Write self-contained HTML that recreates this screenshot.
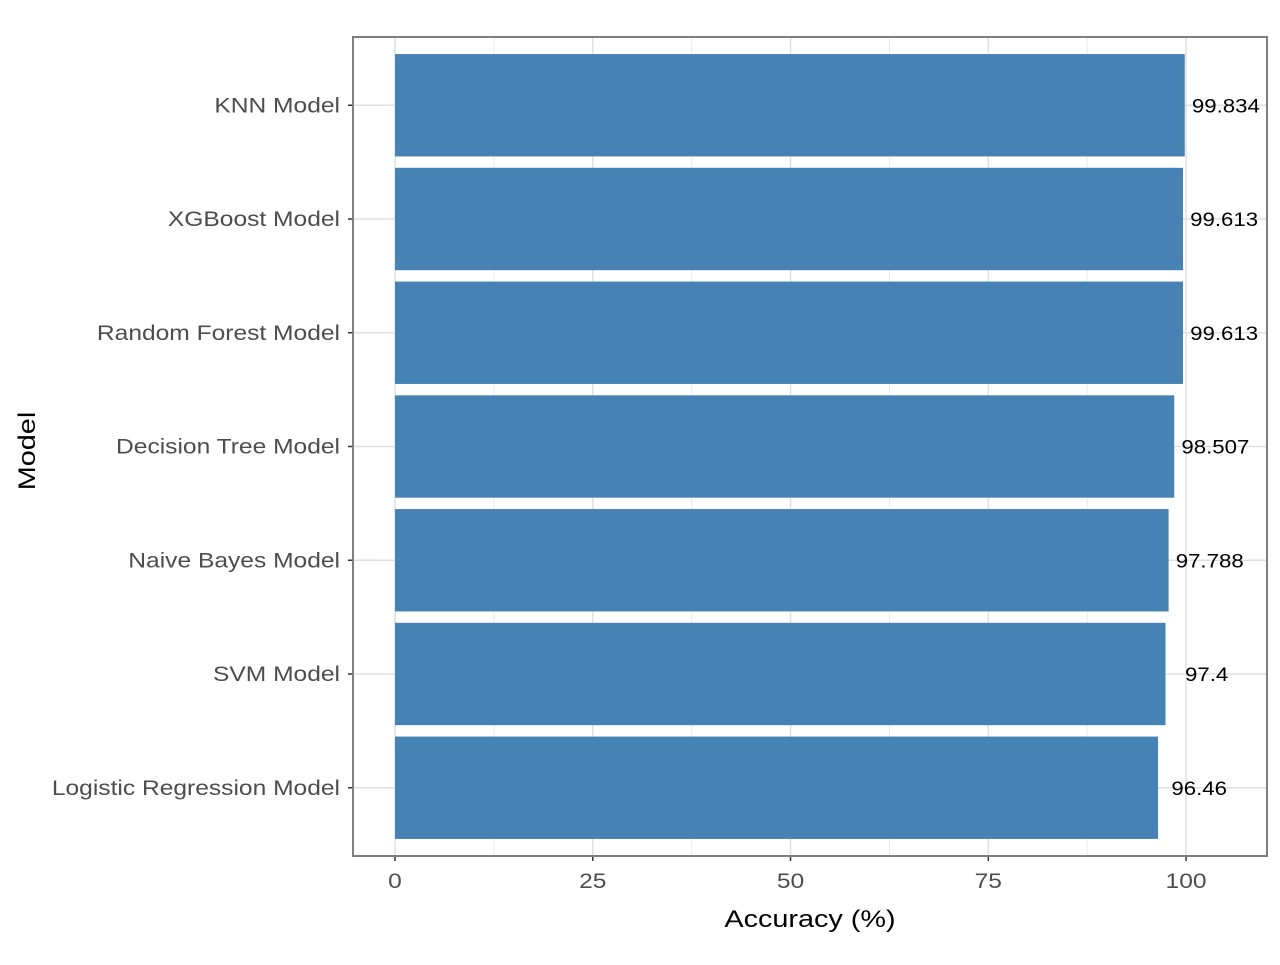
<!DOCTYPE html>
<html><head><meta charset="utf-8"><style>
body{margin:0;background:#fff;}
svg text{font-family:"Liberation Sans",Arial,sans-serif;}
</style></head><body>
<svg id="chart" width="1280" height="960" xmlns="http://www.w3.org/2000/svg">
<rect width="1280" height="960" fill="#fff"/>
<g id="grid"></g><g id="bars"></g><g id="labels"></g><g id="axes"></g>
<rect x="353" y="37" width="914" height="819" fill="none" stroke="#7f7f7f" stroke-width="2"/>
<text id="xt" x="810" y="927" font-size="24" text-anchor="middle">Accuracy (%)</text>
<text id="yt" transform="translate(35,451) rotate(-90)" font-size="24" text-anchor="middle">Model</text>
</svg>
<script>
const categories=["Logistic Regression Model","SVM Model","Naive Bayes Model","Decision Tree Model","Random Forest Model","XGBoost Model","KNN Model"];
const values=[96.46,97.4,97.788,98.507,99.613,99.613,99.834];
const valueLabels=["96.46","97.4","97.788","98.507","99.613","99.613","99.834"];
const xTicks=[0,25,50,75,100];
const xMinor=[12.5,37.5,62.5,87.5];
const NS="http://www.w3.org/2000/svg";
const X0=353,X1=1267,Y0=37,Y1=856,xmin=-5.31,xmax=110.23;
function x(v){return X0+(v-xmin)/(xmax-xmin)*(X1-X0);}
const step=(Y1-Y0)/(categories.length+0.2);
function y(i){return Y1-(i+0.6)*step;}
function mk(t,a,p){const e=document.createElementNS(NS,t);for(const k in a)e.setAttribute(k,a[k]);p.appendChild(e);return e;}
function stretch(e,f){const w=e.getComputedTextLength();e.setAttribute('textLength',w*f);e.setAttribute('lengthAdjust','spacingAndGlyphs');}
const grid=document.getElementById('grid'),bars=document.getElementById('bars'),labels=document.getElementById('labels'),axes=document.getElementById('axes');
xMinor.forEach(v=>{const l=mk('line',{x1:x(v),x2:x(v),y1:Y0,y2:Y1,stroke:'#ebebeb','stroke-width':1},grid);

});
xTicks.forEach(v=>{const l=mk('line',{x1:x(v),x2:x(v),y1:Y0,y2:Y1,stroke:'#e0e0e0','stroke-width':1.5},grid);


const t=mk('line',{x1:x(v),x2:x(v),y1:Y1,y2:Y1+5,stroke:'#333','stroke-width':1.5},axes);


const tx=mk('text',{x:x(v),y:Y1+32,'font-size':21,fill:'#4d4d4d','text-anchor':'middle'},axes);tx.textContent=v;


stretch(tx,1.17);});
categories.forEach((c,i)=>{const yc=y(i);
const g=mk('line',{x1:X0,x2:X1,y1:yc,y2:yc,stroke:'#e0e0e0','stroke-width':1.5},grid);


const h=step*0.9;
const b=mk('rect',{x:x(0),y:yc-h/2,width:x(values[i])-x(0),height:h,fill:'#4682b4'},bars);


const lt=mk('text',{x:x(values[i]+5.2),y:yc+7,'font-size':19,fill:'#000','text-anchor':'middle'},labels);lt.textContent=valueLabels[i];


stretch(lt,1.17);
const tk=mk('line',{x1:X0-5,x2:X0,y1:yc,y2:yc,stroke:'#333','stroke-width':1.5},axes);


const tl=mk('text',{x:X0-13,y:yc+7,'font-size':21,fill:'#4d4d4d','text-anchor':'end'},axes);tl.textContent=c;


stretch(tl,1.17);});
stretch(document.getElementById('xt'),1.2);
stretch(document.getElementById('yt'),1.2);
</script>
</body></html>
